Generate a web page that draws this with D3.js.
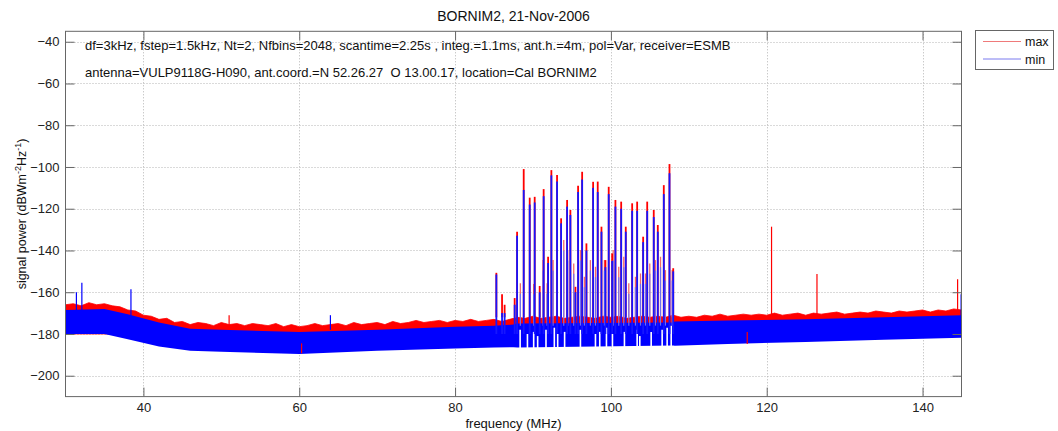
<!DOCTYPE html>
<html>
<head>
<meta charset="utf-8">
<script src="https://cdn.jsdelivr.net/npm/d3@7"></script>
<style>
  body { margin: 0; background: #fff; }
  svg { display: block; font-family: "Liberation Sans", Arial, sans-serif; }
</style>
</head>
<body>
<svg id="chart" width="1058" height="431"></svg>
<script>
// BORNIM2 spectrum scan, max / min traces
const xTicks = [40, 60, 80, 100, 120, 140];
const yTicks = [-40, -60, -80, -100, -120, -140, -160, -180, -200];

// max trace upper edge, 1 MHz steps from 30 to 145 MHz
const maxTop = [
  -166, -165.5, -166.5, -165, -166, -165.5, -166.5, -167, -168.5, -169,
  -171, -171.5, -173, -172.5, -174.5, -174, -175.5, -174.5, -175, -176,
  -174.5, -175.5, -175, -176, -175, -175.5, -176, -175, -176.5, -175.5,
  -176.5, -176, -175, -176, -175.5, -175, -176, -174.5, -175.5, -175,
  -174.5, -175.5, -174, -175, -174.5, -173.5, -174.5, -174, -173.5, -174.5,
  -173.5, -174, -173, -174, -173.5, -173, -174, -173, -172, -172.5,
  -171.5, -172.5, -172, -171.5, -172.5, -172, -171.5, -172, -172.5, -171.5,
  -172, -171.5, -172.5, -172, -171.5, -172, -171.5, -172, -171, -172,
  -171.5, -172, -171, -171.5, -170.5, -171.5, -171, -170.5, -171, -170.5,
  -171, -170, -171, -170.5, -170, -171, -170, -170.5, -170, -169.5,
  -170.5, -170, -169.5, -170, -169, -169.5, -170, -169, -169.5, -169,
  -168.5, -169.5, -168.5, -169, -168, -168.5
];
const maxFreq = d3.range(30, 30 + maxTop.length);

// min trace band (top and bottom edge)
const bandFreq   = [30, 35, 38, 42, 46, 50, 60, 70, 80, 85, 87.5, 88, 108, 108.2, 115, 125, 135, 145];
const minTop     = [-168.5, -168, -170.5, -174.5, -177.5, -178, -179, -178, -176.5, -176, -175.5, -175, -174.5, -174, -173.5, -173, -172, -171];
const minBottom  = [-180, -180, -182.5, -186, -188, -188.5, -189.6, -188, -187, -186.5, -186.3, -186.5, -185.5, -185.6, -184.8, -183.8, -182.8, -181.8];

// FM band carriers
const fmFreq = [85.3, 86.03, 86.36, 87.65, 87.96, 88.81, 89.58, 90.22, 90.86, 91.37, 91.94, 92.36, 93.09, 93.61, 94.38, 94.8, 95.45, 95.79, 96.31, 96.86,
                97.72, 98.31, 98.79, 99.3, 99.72, 100.16, 100.58, 101.32, 101.91, 102.73, 103.37, 104.14, 104.66, 105.5, 106.02, 106.79, 107.52, 108.0];
const fmMax  = [-150.7, -161, -166, -162.8, -131, -101, -114.7, -114.3, -157, -110.6, -143, -101.5, -103.9, -124.6, -115.8, -120.6, -157.4, -109, -102.3, -136.6,
                -107.1, -107, -128.6, -144.6, -109.5, -141.4, -115.8, -116.6, -128.6, -117.4, -116.6, -133.4, -116.6, -120.6, -127.8, -108.7, -98.6, -148.5];
const fmMin  = [-151.5, -170, -170, -166, -133, -111, -118, -117, -160, -114, -146, -104, -107, -127, -119, -123, -160, -112, -106, -140,
                -110, -112, -131, -148, -113, -145, -119, -120, -131, -121, -121, -136, -121, -124, -131, -113, -103, -150];

// weaker side peaks inside the FM band
const midFreq = [88.38, 90.09, 91.3, 91.81, 92.58, 93.95, 94.46, 95.23, 96.09, 96.6, 97.37, 98.02, 99.17, 100.29, 101.01, 101.65, 102.3, 103.15, 103.8, 104.44, 104.99, 105.72, 106.37, 107.0, 107.87];
const midMax  = [-155.7, -156, -144.6, -155.7, -144.6, -135, -139.8, -146.2, -139.8, -152.6, -144.6, -147.8, -144.6, -139.8, -147.8, -143, -155.7, -152.6, -151, -151, -146.2, -144.6, -143, -149.4, -149.4];

// gaps under the FM band where the min trace stays high
const gapFreq = [88.35, 89.29, 90.09, 90.6, 91.67, 92.74, 93.17, 94.06, 96.09, 98.02, 98.57, 99.43, 100.2, 101.74, 103.37, 103.71, 105.17, 106.58, 107.22, 107.74];
const gapTop  = [-178, -180, -179, -181, -178, -177, -180, -179, -178, -180, -179, -177, -180, -179, -178, -181, -179, -178, -177, -176];

// isolated lines outside the FM band
const lineFreq  = [31.4, 32.1, 38.4, 51.0, 64.0, 120.62, 126.45, 144.5, 144.95, 60.3, 117.5];
const lineFrom  = [-170, -170, -172, -176, -178, -172, -172, -170, -172, -184.5, -179];
const lineTo    = [-160, -155.4, -158.6, -171, -171, -128.6, -151.3, -153.8, -161, -189.3, -184.8];
const lineTrace = ['min', 'min', 'min', 'max', 'min', 'max', 'max', 'max', 'min', 'max', 'max'];

const titleText = 'BORNIM2, 21-Nov-2006';
const infoLines = [
  'df=3kHz, fstep=1.5kHz, Nt=2, Nfbins=2048, scantime=2.25s , integ.=1.1ms, ant.h.=4m, pol=Var, receiver=ESMB',
  'antenna=VULP9118G-H090, ant.coord.=N 52.26.27  O 13.00.17, location=Cal BORNIM2'
];
const legendNames = ['max', 'min'];

const RED = '#ff0000';
const BLUE = '#0000ff';

const svg = d3.select('#chart');
const pL = 65.5, pR = 961.5, pT = 31.3, pB = 396.6;

const x = d3.scaleLinear().domain([30, 145]).range([pL, pR]);
const y = d3.scaleLinear().domain([-210, -35]).range([pB, pT]);

svg.append('rect').attr('width', 1058).attr('height', 431).attr('fill', '#fff');

// grid
const grid = svg.append('g').attr('stroke', '#b4b4b4').attr('stroke-width', 1).attr('stroke-dasharray', '1,2');
xTicks.forEach(t => {
  grid.append('line').attr('x1', Math.round(x(t)) + 0.5).attr('x2', Math.round(x(t)) + 0.5)
    .attr('y1', pT).attr('y2', pB);
});
yTicks.forEach(t => {
  grid.append('line').attr('y1', Math.round(y(t)) + 0.5).attr('y2', Math.round(y(t)) + 0.5)
    .attr('x1', pL).attr('x2', pR);
});

const plot = svg.append('g');

// max trace band
const maxArea = d3.area()
  .x((d, i) => x(maxFreq[i]))
  .y0(y(-180))
  .y1(d => y(d));
plot.append('path').datum(maxTop).attr('d', maxArea).attr('fill', RED)
  .attr('stroke', RED).attr('stroke-width', 0.8);

// side peaks (max part)
midFreq.forEach((f, i) => {
  plot.append('line').attr('x1', x(f)).attr('x2', x(f))
    .attr('y1', y(-172)).attr('y2', y(midMax[i]))
    .attr('stroke', '#f06a6a').attr('stroke-width', 1.3);
});

// FM carriers, max trace
fmFreq.forEach((f, i) => {
  plot.append('line').attr('x1', x(f)).attr('x2', x(f))
    .attr('y1', y(-172)).attr('y2', y(fmMax[i]))
    .attr('stroke', RED).attr('stroke-width', 1.8);
});

// isolated max lines pointing up
lineFreq.forEach((f, i) => {
  if (lineTrace[i] !== 'max' || lineTo[i] < lineFrom[i]) return;
  plot.append('line').attr('x1', x(f)).attr('x2', x(f))
    .attr('y1', y(lineFrom[i])).attr('y2', y(lineTo[i]))
    .attr('stroke', RED).attr('stroke-width', 1.2);
});

// min trace band
const minArea = d3.area()
  .x((d, i) => x(bandFreq[i]))
  .y0((d, i) => y(minBottom[i]))
  .y1(d => y(d));
plot.append('path').datum(minTop).attr('d', minArea).attr('fill', BLUE);

// white gaps in the FM band
gapFreq.forEach((f, i) => {
  plot.append('line').attr('x1', x(f)).attr('x2', x(f))
    .attr('y1', y(-187.5)).attr('y2', y(gapTop[i]))
    .attr('stroke', '#fff').attr('stroke-width', 1.6);
});

// side peaks, min part
midFreq.forEach((f, i) => {
  plot.append('line').attr('x1', x(f)).attr('x2', x(f))
    .attr('y1', y(-176)).attr('y2', y(midMax[i] - 5))
    .attr('stroke', '#6f6ff0').attr('stroke-width', 1.2);
});

// FM carriers, min trace
fmFreq.forEach((f, i) => {
  plot.append('line').attr('x1', x(f)).attr('x2', x(f))
    .attr('y1', y(-180)).attr('y2', y(fmMin[i]))
    .attr('stroke', '#1515ff').attr('stroke-width', 1.8);
});

// isolated min lines and downward max lines
lineFreq.forEach((f, i) => {
  if (lineTrace[i] === 'max' && lineTo[i] > lineFrom[i]) return;
  plot.append('line').attr('x1', x(f)).attr('x2', x(f))
    .attr('y1', y(lineFrom[i])).attr('y2', y(lineTo[i]))
    .attr('stroke', lineTrace[i] === 'max' ? RED : BLUE).attr('stroke-width', 1.2);
});

// axes box and ticks
const axisColor = '#666';
const xAxisB = d3.axisBottom(x).tickValues(xTicks).tickSizeInner(-9).tickSizeOuter(0).tickPadding(6);
const xAxisT = d3.axisTop(x).tickValues(xTicks).tickSizeInner(-9).tickSizeOuter(0).tickFormat('');
const yAxisL = d3.axisLeft(y).tickValues(yTicks).tickSizeInner(-9).tickSizeOuter(0).tickPadding(6);
const yAxisR = d3.axisRight(y).tickValues(yTicks).tickSizeInner(-9).tickSizeOuter(0).tickFormat('');

function styleAxis(g) {
  g.select('.domain').remove();
  g.selectAll('.tick line').attr('stroke', axisColor);
  g.selectAll('.tick text').attr('fill', '#222').attr('font-size', 13)
    .attr('font-family', '"Liberation Sans", Arial, sans-serif');
}
svg.append('g').attr('transform', `translate(0,${pB})`).call(xAxisB).call(styleAxis);
svg.append('g').attr('transform', `translate(0,${pT})`).call(xAxisT).call(styleAxis);
svg.append('g').attr('transform', `translate(${pL},0)`).call(yAxisL).call(styleAxis);
svg.append('g').attr('transform', `translate(${pR},0)`).call(yAxisR).call(styleAxis);

svg.append('rect').attr('x', pL).attr('y', pT)
  .attr('width', pR - pL).attr('height', pB - pT)
  .attr('fill', 'none').attr('stroke', axisColor).attr('stroke-width', 1);

// title and labels
svg.append('text').attr('x', (pL + pR) / 2).attr('y', 20.5)
  .attr('text-anchor', 'middle').attr('font-size', 14).attr('fill', '#111')
  .text(titleText);

svg.append('text').attr('x', (pL + pR) / 2).attr('y', 428)
  .attr('text-anchor', 'middle').attr('font-size', 13).attr('fill', '#111')
  .text('frequency (MHz)');

const yl = svg.append('text')
  .attr('transform', `translate(26,${(pT + pB) / 2}) rotate(-90)`)
  .attr('text-anchor', 'middle').attr('font-size', 12.5).attr('fill', '#111');
yl.append('tspan').text('signal power (dBWm');
yl.append('tspan').attr('font-size', 9).attr('dy', -5).text('-2');
yl.append('tspan').attr('dy', 5).text('Hz');
yl.append('tspan').attr('font-size', 9).attr('dy', -5).text('-1');
yl.append('tspan').attr('dy', 5).text(')');

// info text
infoLines.forEach((s, i) => {
  svg.append('text').attr('x', 85).attr('y', 50 + i * 27.3)
    .attr('font-size', 13).attr('fill', '#111')
    .attr('xml:space', 'preserve').style('white-space', 'pre')
    .text(s);
});

// legend
const legend = svg.append('g');
legend.append('rect').attr('x', 975.5).attr('y', 30.5).attr('width', 78).attr('height', 39)
  .attr('fill', '#fff').attr('stroke', axisColor);
['#ef7a7a', '#7a7aef'].forEach((c, i) => {
  const ly = 41.5 + i * 17.5;
  legend.append('line').attr('x1', 983).attr('x2', 1021).attr('y1', ly).attr('y2', ly)
    .attr('stroke', c).attr('stroke-width', 1);
  legend.append('text').attr('x', 1025).attr('y', ly + 4.5)
    .attr('font-size', 12.5).attr('fill', '#111').text(legendNames[i]);
});
</script>
</body>
</html>
